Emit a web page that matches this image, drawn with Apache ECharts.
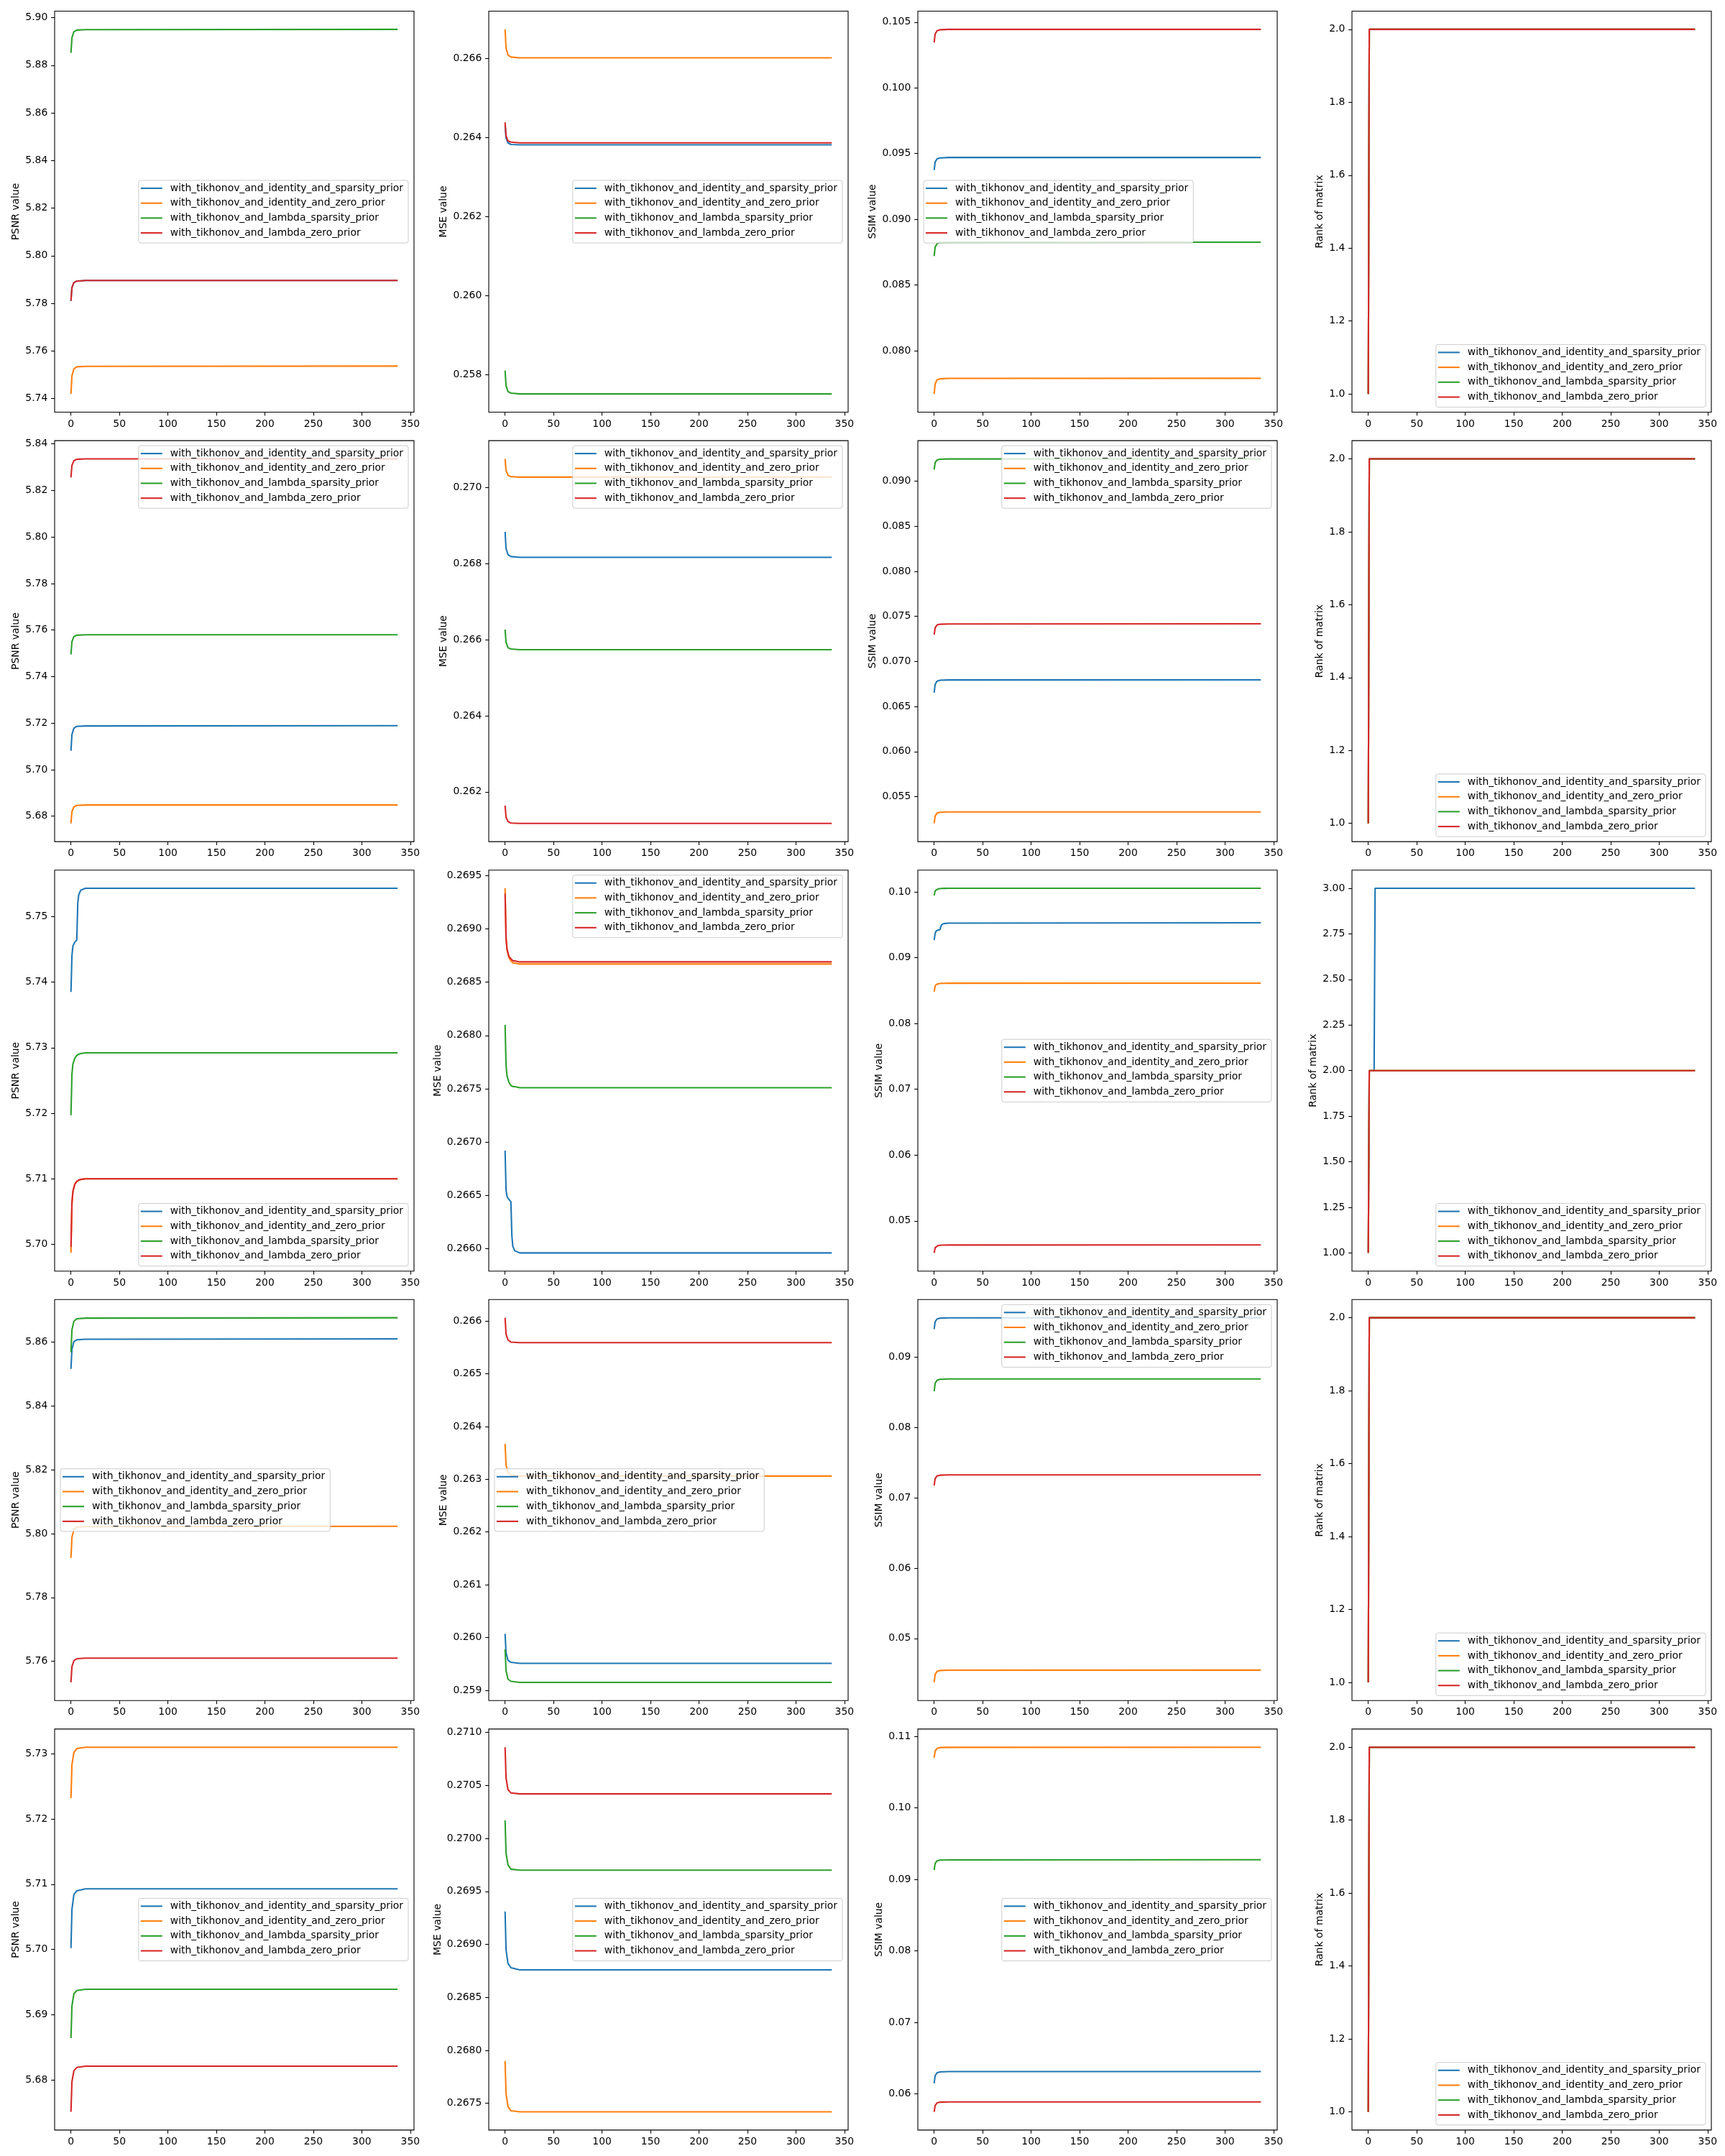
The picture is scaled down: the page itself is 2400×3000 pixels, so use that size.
<!DOCTYPE html>
<html><head><meta charset="utf-8">
<script src="https://cdn.jsdelivr.net/npm/echarts@6/dist/echarts.min.js"></script>
<style>html,body{margin:0;padding:0;background:#fff;} #chart{width:2400px;height:3000px;}</style>
</head><body><div id="chart"></div>
<script>
const seriesNames = ['with_tikhonov_and_identity_and_sparsity_prior','with_tikhonov_and_identity_and_zero_prior','with_tikhonov_and_lambda_sparsity_prior','with_tikhonov_and_lambda_zero_prior'];
const metricLabels = ['PSNR value','MSE value','SSIM value','Rank of matrix'];
const xTicks = [0,50,100,150,200,250,300,350];
const iterX = [0, 1, 3, 6, 15, 337];
const iterX3 = [0, 1, 2, 4, 6, 7, 8, 10, 15, 337];
const rankX = [0, 1, 337];
const rankX3 = [0, 1, 6, 7, 337];

// Row 1
const psnr1 = [
 [5.7810, 5.7866, 5.7887, 5.7893, 5.7896, 5.7896],
 [5.7419, 5.7495, 5.7524, 5.7533, 5.7535, 5.7536],
 [5.8852, 5.8916, 5.8941, 5.8948, 5.8950, 5.8951],
 [5.7810, 5.7866, 5.7887, 5.7893, 5.7896, 5.7896]];
const mse1 = [
 [0.26430, 0.26398, 0.26386, 0.26382, 0.26381, 0.26381],
 [0.26673, 0.26626, 0.26608, 0.26603, 0.26601, 0.26601],
 [0.25810, 0.25772, 0.25757, 0.25753, 0.25751, 0.25751],
 [0.26438, 0.26404, 0.26391, 0.26388, 0.26386, 0.26386]];
const ssim1 = [
 [0.09374, 0.09436, 0.09460, 0.09467, 0.09470, 0.09470],
 [0.07671, 0.07748, 0.07778, 0.07786, 0.07789, 0.07790],
 [0.08720, 0.08789, 0.08815, 0.08823, 0.08825, 0.08826],
 [0.10345, 0.10410, 0.10435, 0.10442, 0.10445, 0.10445]];
const rank1 = [[1,2,2],[1,2,2],[1,2,2],[1,2,2]];

// Row 2
const psnr2 = [
 [5.7081, 5.7151, 5.7178, 5.7186, 5.7188, 5.7189],
 [5.6769, 5.6820, 5.6840, 5.6846, 5.6848, 5.6848],
 [5.7495, 5.7550, 5.7572, 5.7578, 5.7580, 5.7580],
 [5.8256, 5.8308, 5.8328, 5.8334, 5.8336, 5.8336]];
const mse2 = [
 [0.26884, 0.26840, 0.26824, 0.26819, 0.26817, 0.26817],
 [0.27076, 0.27045, 0.27033, 0.27029, 0.27028, 0.27028],
 [0.26627, 0.26593, 0.26579, 0.26576, 0.26574, 0.26574],
 [0.26164, 0.26133, 0.26122, 0.26118, 0.26117, 0.26117]];
const ssim2 = [
 [0.06653, 0.06746, 0.06782, 0.06792, 0.06795, 0.06796],
 [0.05203, 0.05286, 0.05318, 0.05327, 0.05330, 0.05331],
 [0.09129, 0.09206, 0.09236, 0.09244, 0.09247, 0.09248],
 [0.07297, 0.07375, 0.07405, 0.07413, 0.07416, 0.07417]];
const rank2 = [[1,2,2],[1,2,2],[1,2,2],[1,2,2]];

// Row 3 (x = iterX3)
const psnr3 = [
 [5.7385, 5.7440, 5.7455, 5.7461, 5.7464, 5.7520, 5.7533, 5.7540, 5.7543, 5.7543],
 [5.6987, 5.7060, 5.7080, 5.7092, 5.7096, 5.7097, 5.7098, 5.7099, 5.7100, 5.7100],
 [5.7197, 5.7259, 5.7275, 5.7284, 5.7288, 5.7289, 5.7290, 5.7291, 5.7292, 5.7292],
 [5.6996, 5.7064, 5.7081, 5.7092, 5.7096, 5.7097, 5.7098, 5.7099, 5.7100, 5.7100]];
const mse3 = [
 [0.26692, 0.26655, 0.26649, 0.26646, 0.26644, 0.26612, 0.26602, 0.26598, 0.26596, 0.26596],
 [0.26938, 0.26892, 0.26880, 0.26873, 0.26870, 0.26869, 0.26868, 0.26868, 0.26867, 0.26867],
 [0.26810, 0.26772, 0.26762, 0.26756, 0.26753, 0.26753, 0.26752, 0.26752, 0.26751, 0.26751],
 [0.26933, 0.26891, 0.26881, 0.26874, 0.26872, 0.26871, 0.26870, 0.26870, 0.26869, 0.26869]];
const ssim3 = [
 [0.09267, 0.09370, 0.09405, 0.09420, 0.09427, 0.09480, 0.09505, 0.09518, 0.09525, 0.09530],
 [0.08483, 0.08568, 0.08590, 0.08603, 0.08608, 0.08609, 0.08610, 0.08611, 0.08612, 0.08613],
 [0.09946, 0.10016, 0.10035, 0.10045, 0.10050, 0.10051, 0.10052, 0.10053, 0.10054, 0.10054],
 [0.04514, 0.04593, 0.04613, 0.04625, 0.04630, 0.04631, 0.04632, 0.04633, 0.04634, 0.04635]];
const rank3 = [[1,2,2,3,3],[1,2,2,2,2],[1,2,2,2,2],[1,2,2,2,2]];

// Row 4
const psnr4 = [
 [5.8516, 5.8577, 5.8601, 5.8607, 5.8609, 5.8610],
 [5.7924, 5.7988, 5.8013, 5.8020, 5.8022, 5.8023],
 [5.8568, 5.8638, 5.8665, 5.8673, 5.8675, 5.8676],
 [5.7534, 5.7583, 5.7602, 5.7608, 5.7610, 5.7610]];
const mse4 = [
 [0.26007, 0.25971, 0.25957, 0.25953, 0.25951, 0.25951],
 [0.26367, 0.26327, 0.26312, 0.26308, 0.26306, 0.26306],
 [0.25978, 0.25937, 0.25921, 0.25917, 0.25915, 0.25915],
 [0.26606, 0.26575, 0.26564, 0.26560, 0.26559, 0.26559]];
const ssim4 = [
 [0.09400, 0.09504, 0.09544, 0.09555, 0.09559, 0.09560],
 [0.04376, 0.04489, 0.04533, 0.04545, 0.04549, 0.04550],
 [0.08515, 0.08629, 0.08673, 0.08686, 0.08690, 0.08691],
 [0.07174, 0.07274, 0.07312, 0.07322, 0.07326, 0.07327]];
const rank4 = [[1,2,2],[1,2,2],[1,2,2],[1,2,2]];

// Row 5
const psnr5 = [
 [5.7002, 5.7061, 5.7084, 5.7090, 5.7093, 5.7093],
 [5.7232, 5.7283, 5.7302, 5.7308, 5.7310, 5.7310],
 [5.6864, 5.6913, 5.6932, 5.6937, 5.6939, 5.6939],
 [5.6751, 5.6797, 5.6814, 5.6819, 5.6821, 5.6821]];
const mse5 = [
 [0.26931, 0.26895, 0.26882, 0.26878, 0.26876, 0.26876],
 [0.26790, 0.26759, 0.26747, 0.26743, 0.26742, 0.26742],
 [0.27017, 0.26986, 0.26975, 0.26971, 0.26970, 0.26970],
 [0.27086, 0.27057, 0.27046, 0.27043, 0.27042, 0.27042]];
const ssim5 = [
 [0.06147, 0.06255, 0.06296, 0.06308, 0.06312, 0.06313],
 [0.10703, 0.10798, 0.10834, 0.10845, 0.10848, 0.10849],
 [0.09131, 0.09225, 0.09261, 0.09271, 0.09274, 0.09275],
 [0.05749, 0.05839, 0.05874, 0.05884, 0.05887, 0.05888]];
const rank5 = [[1,2,2],[1,2,2],[1,2,2],[1,2,2]];

// y tick steps per row (PSNR, MSE, SSIM, Rank)
const ySteps = [
 [0.02, 0.002, 0.005, 0.2],
 [0.02, 0.002, 0.005, 0.2],
 [0.01, 0.0005, 0.01, 0.25],
 [0.02, 0.001, 0.01, 0.2],
 [0.01, 0.0005, 0.01, 0.2]];

// legend placement per subplot
const legendLoc = [
 ['center right','center right','center left','lower right'],
 ['upper right','upper right','upper right','lower right'],
 ['lower right','upper right','center right','lower right'],
 ['center left','center left','upper right','lower right'],
 ['center right','center right','center right','lower right']];

const rowData = [
 [psnr1, mse1, ssim1, rank1],
 [psnr2, mse2, ssim2, rank2],
 [psnr3, mse3, ssim3, rank3],
 [psnr4, mse4, ssim4, rank4],
 [psnr5, mse5, ssim5, rank5]];
const rowX = [iterX, iterX, iterX3, iterX, iterX];
const rowRankX = [rankX, rankX, rankX3, rankX, rankX];

// layout / style
const frameLefts = [76, 680, 1277, 1881];
const frameTop0 = 15.5, rowPitch = 597.6, frameW = 500, frameH = 558;
const colors = ['#1f77b4','#ff7f0e','#2ca02c','#d62728'];
const FS = 13.9, FONT = 'DejaVu Sans';
const LH = 87;

const mctx = document.createElement('canvas').getContext('2d');
mctx.font = FS + 'px "DejaVu Sans"';

function decimalsOf(step) {
  const s = String(step);
  const i = s.indexOf('.');
  return i < 0 ? 0 : s.length - i - 1;
}

const grids = [], xAxes = [], yAxes = [], series = [], legends = [];
const xMaxData = 337;
const xMin = -0.05 * xMaxData, xMax = xMaxData * 1.05;

for (let r = 0; r < 5; r++) {
  for (let c = 0; c < 4; c++) {
    const idx = r * 4 + c;
    const xs = c === 3 ? rowRankX[r] : rowX[r];
    const vals = rowData[r][c];
    let lo = Infinity, hi = -Infinity;
    vals.forEach(a => a.forEach(v => { lo = Math.min(lo, v); hi = Math.max(hi, v); }));
    const span = hi - lo;
    const ymin = lo - 0.05 * span, ymax = hi + 0.05 * span;
    const step = ySteps[r][c];
    const dec = decimalsOf(step);
    const yTicks = [];
    for (let k = Math.ceil(ymin / step - 1e-9); k <= Math.floor(ymax / step + 1e-9); k++) {
      yTicks.push(parseFloat((k * step).toFixed(dec + 3)));
    }
    let maxW = 0;
    yTicks.forEach(t => { maxW = Math.max(maxW, mctx.measureText(t.toFixed(dec)).width); });

    const left = frameLefts[c];
    const top = frameTop0 + r * rowPitch;
    grids.push({left: left, top: top, width: frameW, height: frameH, show: true,
      borderColor: '#000', borderWidth: 1.1, backgroundColor: '#fff'});
    xAxes.push({gridIndex: idx, type: 'value', min: xMin, max: xMax,
      axisLine: {show: false, onZero: false}, splitLine: {show: false},
      axisTick: {show: true, length: 4.86, lineStyle: {color: '#000', width: 1.1}, customValues: xTicks},
      axisLabel: {customValues: xTicks, margin: 9.5, color: '#000', fontSize: FS, fontFamily: FONT,
        formatter: v => String(Math.round(v))}});
    yAxes.push({gridIndex: idx, type: 'value', min: ymin, max: ymax,
      name: metricLabels[c], nameLocation: 'middle', nameGap: 15.5 + maxW,
      nameTextStyle: {fontSize: FS, fontFamily: FONT, color: '#000'},
      axisLine: {show: false, onZero: false}, splitLine: {show: false},
      axisTick: {show: true, length: 4.86, lineStyle: {color: '#000', width: 1.1}, customValues: yTicks},
      axisLabel: {customValues: yTicks, margin: 9.7, color: '#000', fontSize: FS, fontFamily: FONT,
        formatter: v => Number(v).toFixed(dec)}});
    for (let s = 0; s < 4; s++) {
      series.push({type: 'line', name: seriesNames[s], xAxisIndex: idx, yAxisIndex: idx,
        data: xs.map((x, i) => [x, vals[s][i]]),
        symbol: 'none', showSymbol: false, color: colors[s],
        lineStyle: {width: 2.08, color: colors[s]}, animation: false, silent: true});
    }
    const loc = legendLoc[r][c];
    const lg = {data: seriesNames.map(n => ({name: n, icon: 'rect'})), orient: 'vertical', selectedMode: false,
      padding: [4, 7, 7, 3], itemGap: 6.7, itemWidth: 30, itemHeight: 2.08,
      backgroundColor: 'rgba(255,255,255,0.8)', borderColor: '#cccccc', borderWidth: 1, borderRadius: 3,
      textStyle: {fontSize: FS, fontFamily: FONT, color: '#000', lineHeight: 14, padding: [0, 0, 0, 6]}};
    if (loc.indexOf('right') >= 0) lg.right = 2400 - (left + frameW - 8);
    else lg.left = left + 8;
    if (loc.indexOf('upper') >= 0) lg.top = top + 7;
    else if (loc.indexOf('lower') >= 0) lg.bottom = 3000 - (top + frameH - 7);
    else lg.top = top + frameH / 2 - LH / 2;
    legends.push(lg);
  }
}

const chart = echarts.init(document.getElementById('chart'), null, {renderer: 'canvas'});
chart.setOption({
  backgroundColor: '#fff',
  animation: false,
  textStyle: {fontFamily: FONT},
  grid: grids, xAxis: xAxes, yAxis: yAxes, series: series, legend: legends
});
</script></body></html>
